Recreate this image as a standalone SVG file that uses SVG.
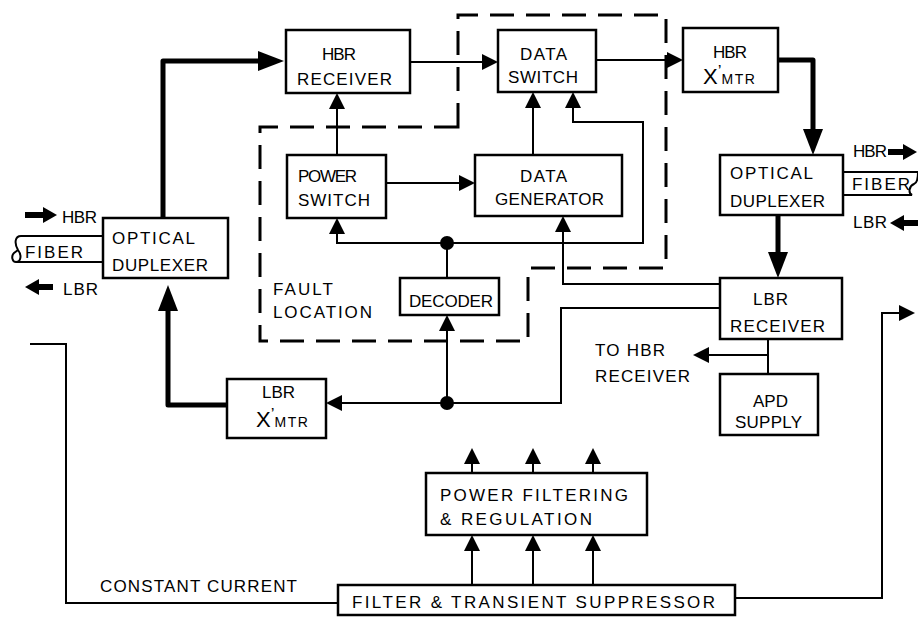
<svg xmlns="http://www.w3.org/2000/svg" width="918" height="619" viewBox="0 0 918 619">
  <style>
    .box { fill: #fff; stroke: #000; stroke-width: 2.5; }
    .t { font-family: "Liberation Sans", Arial, sans-serif; font-size: 17px; fill: #000; }
    .thin { fill: none; stroke: #000; stroke-width: 2; }
    .thick { fill: none; stroke: #000; stroke-width: 5; stroke-linejoin: round; }
    .dash { fill: none; stroke: #000; stroke-width: 3; stroke-dasharray: 24 12; }
    .big { font-size: 22px; }
    .sm { font-size: 14px; letter-spacing: 1.5px; }
  </style>
  <defs>
    <marker id="ah" markerUnits="userSpaceOnUse" markerWidth="16" markerHeight="16" viewBox="0 0 16 16" refX="4" refY="8" orient="auto-start-reverse">
      <path d="M0,0 L16,8 L0,16 Z" fill="#000"/>
    </marker>
    <marker id="ahb" markerUnits="userSpaceOnUse" markerWidth="26" markerHeight="20" viewBox="0 0 26 20" refX="6" refY="10" orient="auto-start-reverse">
      <path d="M0,0 L26,10 L0,20 Z" fill="#000"/>
    </marker>
  </defs>
  <rect width="918" height="619" fill="#fff"/>

  <!-- fault location boundary -->
  <path class="dash" d="M458,127 V15 H666 V268 H528 V341 H260 V127 Z"/>

  <g id="connectors">
    <!-- optical paths -->
    <path class="thick" d="M163,218 V61 H264" marker-end="url(#ahb)"/>
    <path class="thick" d="M227,405 H168 V305" marker-end="url(#ahb)"/>
    <path class="thick" d="M778,60 H813 V135" marker-end="url(#ahb)"/>
    <path class="thick" d="M778,215 V258" marker-end="url(#ahb)"/>
    <!-- signal paths -->
    <path class="thin" d="M410,62 H486" marker-end="url(#ah)"/>
    <path class="thin" d="M596,60 H671" marker-end="url(#ah)"/>
    <path class="thin" d="M337,155 V105" marker-end="url(#ah)"/>
    <path class="thin" d="M386,183 H463" marker-end="url(#ah)"/>
    <path class="thin" d="M533,155 V104" marker-end="url(#ah)"/>
    <path class="thin" d="M337,230 V243 H643 V122 H573 V104" marker-start="url(#ah)" marker-end="url(#ah)"/>
    <path class="thin" d="M447,243 V278"/>
    <path class="thin" d="M447,403 V327" marker-end="url(#ah)"/>
    <path class="thin" d="M447,403 H338" marker-end="url(#ah)"/>
    <path class="thin" d="M447,403 H561 V308 H720"/>
    <path class="thin" d="M720,284 H563 V228" marker-end="url(#ah)"/>
    <path class="thin" d="M768,339 V374"/>
    <path class="thin" d="M768,355 H705" marker-end="url(#ah)"/>
    <!-- power distribution -->
    <path class="thin" d="M472,473 V460" marker-end="url(#ah)"/>
    <path class="thin" d="M533,473 V460" marker-end="url(#ah)"/>
    <path class="thin" d="M593,473 V460" marker-end="url(#ah)"/>
    <path class="thin" d="M472,585 V547" marker-end="url(#ah)"/>
    <path class="thin" d="M533,585 V547" marker-end="url(#ah)"/>
    <path class="thin" d="M593,585 V547" marker-end="url(#ah)"/>
    <path class="thin" d="M30,344 H66 V603 H338"/>
    <path class="thin" d="M735,598 H882 V313 H903" marker-end="url(#ah)"/>
    <!-- junction dots -->
    <circle cx="447" cy="243" r="7" fill="#000"/>
    <circle cx="447" cy="403" r="7" fill="#000"/>
    <!-- fiber lines -->
    <path class="thin" d="M103,236 H21 C15,236 14,243 18,250 C22,255 21,262 16,262 C12,262 11,256 14,253 L18,250"/>
    <path class="thin" d="M16,262 H103"/>
    <path class="thin" d="M843,172 H918"/>
    <path class="thin" d="M843,195 H912 C908,193 909,186 914,184 C917,183 918,178 918,172"/>
    <!-- direction arrows -->
    <polygon points="25,212 43,212 43,207 57,215 43,223 43,218 25,218" fill="#000"/>
    <polygon points="25,287 39,279 39,284 53,284 53,290 39,290 39,295" fill="#000"/>
    <polygon points="888,149 903,149 903,144 917,152 903,160 903,155 888,155" fill="#000"/>
    <polygon points="890,223 904,215 904,220 918,220 918,226 904,226 904,231" fill="#000"/>
  </g>

  <g id="dup-left">
    <rect class="box" x="103" y="218" width="125" height="60"/>
    <text class="t" x="112" y="244" textLength="83">OPTICAL</text>
    <text class="t" x="112" y="271" textLength="96">DUPLEXER</text>
  </g>
  <g id="fiber-left">
    <text class="t" x="62" y="223" textLength="35">HBR</text>
    <text class="t" x="25" y="258" textLength="58">FIBER</text>
    <text class="t" x="63" y="295" textLength="35">LBR</text>
  </g>
  <g id="hbr-receiver">
    <rect class="box" x="286" y="30" width="124" height="63"/>
    <text class="t" x="322" y="60" textLength="34">HBR</text>
    <text class="t" x="297" y="85" textLength="95">RECEIVER</text>
  </g>
  <g id="data-switch">
    <rect class="box" x="498" y="30" width="98" height="62"/>
    <text class="t" x="520" y="60" textLength="47">DATA</text>
    <text class="t" x="508" y="83" textLength="70">SWITCH</text>
  </g>
  <g id="hbr-xmtr">
    <rect class="box" x="683" y="28" width="95" height="64"/>
    <text class="t" x="713" y="58" textLength="34">HBR</text>
    <text class="t" x="703" y="84"><tspan class="big">X</tspan><tspan dy="-7">’</tspan><tspan class="sm" dy="7">MTR</tspan></text>
  </g>
  <g id="power-switch">
    <rect class="box" x="287" y="155" width="99" height="63"/>
    <text class="t" x="298" y="182" textLength="59">POWER</text>
    <text class="t" x="298" y="206" textLength="72">SWITCH</text>
  </g>
  <g id="data-generator">
    <rect class="box" x="475" y="155" width="147" height="61"/>
    <text class="t" x="520" y="182" textLength="47">DATA</text>
    <text class="t" x="495" y="205" textLength="109">GENERATOR</text>
  </g>
  <g id="fault-location">
    <text class="t" x="273" y="295" textLength="60">FAULT</text>
    <text class="t" x="273" y="318" textLength="99">LOCATION</text>
  </g>
  <g id="decoder">
    <rect class="box" x="400" y="278" width="99" height="37"/>
    <text class="t" x="409" y="307" textLength="84">DECODER</text>
  </g>
  <g id="lbr-xmtr">
    <rect class="box" x="227" y="379" width="99" height="59"/>
    <text class="t" x="262" y="398" textLength="33">LBR</text>
    <text class="t" x="256" y="427"><tspan class="big">X</tspan><tspan dy="-7">’</tspan><tspan class="sm" dy="7">MTR</tspan></text>
  </g>
  <g id="dup-right">
    <rect class="box" x="720" y="155" width="123" height="60"/>
    <text class="t" x="730" y="179" textLength="83">OPTICAL</text>
    <text class="t" x="730" y="207" textLength="95">DUPLEXER</text>
  </g>
  <g id="fiber-right">
    <text class="t" x="853" y="157" textLength="34">HBR</text>
    <text class="t" x="852" y="190" textLength="58">FIBER</text>
    <text class="t" x="853" y="228" textLength="34">LBR</text>
  </g>
  <g id="lbr-receiver">
    <rect class="box" x="720" y="278" width="122" height="61"/>
    <text class="t" x="753" y="305" textLength="35">LBR</text>
    <text class="t" x="730" y="332" textLength="95">RECEIVER</text>
  </g>
  <g id="to-hbr-receiver">
    <text class="t" x="595" y="356" textLength="70">TO HBR</text>
    <text class="t" x="595" y="382" textLength="95">RECEIVER</text>
  </g>
  <g id="apd-supply">
    <rect class="box" x="720" y="374" width="98" height="61"/>
    <text class="t" x="753" y="407" textLength="35">APD</text>
    <text class="t" x="735" y="428" textLength="67">SUPPLY</text>
  </g>
  <g id="power-filtering">
    <rect class="box" x="426" y="473" width="221" height="62"/>
    <text class="t" x="440" y="501" textLength="188">POWER FILTERING</text>
    <text class="t" x="440" y="525" textLength="152">&amp; REGULATION</text>
  </g>
  <g id="filter-suppressor">
    <rect class="box" x="338" y="585" width="397" height="30"/>
    <text class="t" x="352" y="608" textLength="363">FILTER &amp; TRANSIENT SUPPRESSOR</text>
  </g>
  <g id="constant-current">
    <text class="t" x="100" y="592" textLength="197">CONSTANT CURRENT</text>
  </g>
</svg>
